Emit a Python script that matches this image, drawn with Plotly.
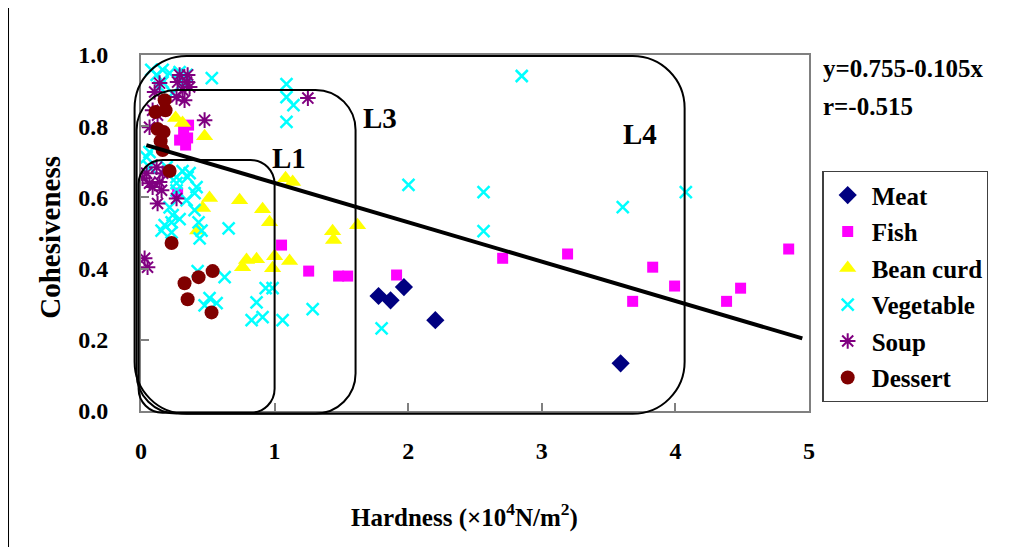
import plotly.graph_objects as go

# ---------------- data ----------------
meat_x = [1.778, 1.868, 1.968, 2.203, 3.590]
meat_y = [0.323, 0.311, 0.348, 0.255, 0.134]

fish_x = [0.274, 0.356, 0.319, 0.349, 0.289, 0.334, 1.052, 1.255, 1.479, 1.547, 1.913,
          2.707, 3.193, 3.680, 3.830, 3.994, 4.383, 4.488, 4.848]
fish_y = [0.612, 0.803, 0.786, 0.767, 0.761, 0.747, 0.466, 0.393, 0.379, 0.379, 0.382,
          0.429, 0.441, 0.308, 0.404, 0.351, 0.308, 0.345, 0.455]

bean_x = [0.476, 0.259, 0.311, 0.513, 0.461, 0.738, 0.910, 0.962, 0.424, 1.082, 1.135,
          1.434, 1.441, 1.621, 0.790, 0.865, 0.760, 1.000, 1.112, 0.985]
bean_y = [0.772, 0.823, 0.809, 0.598, 0.570, 0.592, 0.567, 0.530, 0.507, 0.654, 0.643,
          0.505, 0.480, 0.522, 0.424, 0.426, 0.404, 0.435, 0.421, 0.401]

veg_x = [0.117, 0.162, 0.214, 0.289, 0.341, 0.162, 0.311, 0.139, 0.237, 0.530, 1.089,
         1.089, 1.141, 1.089, 2.850, 2.002, 2.564, 2.564, 3.606, 4.078, 1.801, 0.626,
         0.656, 0.865, 0.828, 0.910, 0.933, 0.985, 1.060, 1.285, 0.424, 0.513, 0.566,
         0.476, 0.311, 0.349, 0.266, 0.401, 0.341, 0.237, 0.177, 0.229, 0.289, 0.401,
         0.431, 0.453, 0.154, 0.229, 0.439, 0.042, 0.064, 0.192, 0.364, 0.416, 0.266,
         0.214, 0.266, 0.064, 0.077]
veg_y = [0.944, 0.958, 0.949, 0.952, 0.944, 0.924, 0.921, 0.910, 0.893, 0.935, 0.918,
         0.882, 0.859, 0.812, 0.941, 0.635, 0.615, 0.505, 0.573, 0.615, 0.232, 0.376,
         0.513, 0.305, 0.255, 0.264, 0.345, 0.345, 0.255, 0.286, 0.393, 0.317, 0.303,
         0.297, 0.674, 0.657, 0.640, 0.612, 0.592, 0.550, 0.522, 0.530, 0.539, 0.564,
         0.530, 0.507, 0.507, 0.502, 0.485, 0.713, 0.685, 0.685, 0.668, 0.629, 0.620,
         0.572, 0.657, 0.727, 0.958]

soup_x = [0.289, 0.349, 0.274, 0.341, 0.311, 0.364, 0.139, 0.102, 0.326, 0.266, 0.476,
          0.087, 0.124, 0.064, 0.042, 0.012, 0.117, 0.162, 0.139, 0.087, 0.064, 0.154,
          0.124, 0.266, 0.027, 0.049, 1.249]
soup_y = [0.944, 0.944, 0.924, 0.924, 0.902, 0.910, 0.921, 0.896, 0.873, 0.882, 0.817,
          0.845, 0.831, 0.797, 0.668, 0.654, 0.685, 0.668, 0.643, 0.629, 0.640, 0.620,
          0.583, 0.597, 0.429, 0.404, 0.879]

dessert_x = [0.177, 0.109, 0.184, 0.124, 0.169, 0.147, 0.162, 0.214, 0.229, 0.326, 0.431,
             0.536, 0.349, 0.528]
dessert_y = [0.873, 0.840, 0.845, 0.792, 0.784, 0.758, 0.733, 0.674, 0.472, 0.359, 0.376,
             0.393, 0.314, 0.277]

fit_x = [0.04, 4.95]
fit_y = [0.747, 0.204]

x_ticks = [0, 1, 2, 3, 4, 5]
y_ticks = [0.0, 0.2, 0.4, 0.6, 0.8, 1.0]

# ---------------- layout geometry ----------------
W, H = 1025, 547
OFF = 8  # page body margin: the figure is drawn 8px right/down of the window origin
# target plot area in window pixels: x 141.4..809.5, y 55..410.7
ML = 141.4 - OFF
MT = 55 - OFF
MR = W - (809.5 - OFF)
MB = H - (410.7 - OFF)
PW, PH = W - ML - MR, H - MT - MB
XMAX, YMAX = 5.0, 1.0
FONT = "Liberation Serif"


def px_x(px):
    return (px - OFF - ML) / PW


def px_y(py):
    return (H - MB - (py - OFF)) / PH


def rrect(x0, y0, x1, y1, r):
    # rounded rectangle in data units -> paper coords, r in pixels
    X0, X1 = x0 / XMAX, x1 / XMAX
    Y0, Y1 = y0 / YMAX, y1 / YMAX
    rx, ry = r / PW, r / PH
    k = 0.5523
    p = [f"M{X0 + rx},{Y1}", f"L{X1 - rx},{Y1}",
         f"C{X1 - rx + k * rx},{Y1} {X1},{Y1 - ry + k * ry} {X1},{Y1 - ry}",
         f"L{X1},{Y0 + ry}",
         f"C{X1},{Y0 + ry - k * ry} {X1 - rx + k * rx},{Y0} {X1 - rx},{Y0}",
         f"L{X0 + rx},{Y0}",
         f"C{X0 + rx - k * rx},{Y0} {X0},{Y0 + ry - k * ry} {X0},{Y0 + ry}",
         f"L{X0},{Y1 - ry}",
         f"C{X0},{Y1 - ry + k * ry} {X0 + rx - k * rx},{Y1} {X0 + rx},{Y1}", "Z"]
    return dict(type="path", xref="paper", yref="paper", path=" ".join(p),
                line=dict(color="black", width=2), fillcolor="rgba(0,0,0,0)", layer="above")


fig = go.Figure()


def add(name, xs, ys, marker):
    fig.add_trace(go.Scatter(x=xs, y=ys, mode="markers", name=name, marker=marker,
                             legendgroup=name))


add("Meat", meat_x, meat_y, dict(symbol="diamond", size=14, color="#000080", line=dict(width=0)))
add("Fish", fish_x, fish_y, dict(symbol="square", size=11, color="#FF00FF", line=dict(width=0)))
add("Bean curd", bean_x, bean_y, dict(symbol="triangle-up", size=15, color="#FFFF00", line=dict(width=0)))
add("Vegetable", veg_x, veg_y, dict(symbol="x-thin-open", size=12, color="#00FFFF",
                                     line=dict(color="#00FFFF", width=2.5)))
add("Soup", soup_x, soup_y, dict(symbol="asterisk-open", size=13, color="#800080",
                                 line=dict(color="#800080", width=2)))
add("Dessert", dessert_x, dessert_y, dict(symbol="circle", size=14, color="#800000", line=dict(width=0)))

fig.add_trace(go.Scatter(x=fit_x, y=fit_y, mode="lines", showlegend=False,
                         line=dict(color="black", width=4), hoverinfo="skip"))

axis_common = dict(showgrid=False, zeroline=False, showline=True, linecolor="#808080",
                   linewidth=2, mirror=True, ticks="inside", ticklen=8, tickcolor="#808080",
                   tickwidth=1.5)

fig.update_xaxes(range=[0, XMAX], tickvals=x_ticks, ticklabelstandoff=17,
                 tickfont=dict(family=FONT, size=24, color="black", weight="bold"),
                 **axis_common)
fig.update_yaxes(range=[0, YMAX], tickvals=y_ticks, tickformat=".1f", ticklabelstandoff=26,
                 tickfont=dict(family=FONT, size=24, color="black", weight="bold"),
                 **axis_common)

shapes = [
    rrect(-0.048, -0.008, 4.069, 0.997, 52),
    rrect(-0.033, -0.007, 1.606, 0.902, 40),
    rrect(-0.018, -0.005, 1.000, 0.705, 24),
    # chart-area frame edge visible at the left of the picture
    dict(type="line", xref="paper", yref="paper", x0=px_x(8.7), x1=px_x(8.7),
         y0=px_y(547), y1=px_y(8), line=dict(color="black", width=1.4), layer="below"),
]

tf = dict(family=FONT, color="black", weight="bold")
annotations = [
    dict(text="L1", x=px_x(289), y=px_y(158), font=dict(size=29, **tf)),
    dict(text="L3", x=px_x(380), y=px_y(118), font=dict(size=29, **tf)),
    dict(text="L4", x=px_x(640), y=px_y(134), font=dict(size=29, **tf)),
    dict(text="y=0.755-0.105x", x=px_x(822), y=px_y(68), xanchor="left", font=dict(size=25, **tf)),
    dict(text="r=-0.515", x=px_x(822), y=px_y(106), xanchor="left", font=dict(size=25, **tf)),
    dict(text="Cohesiveness", x=px_x(51), y=px_y(237), textangle=-90, font=dict(size=29, **tf)),
    dict(text="Hardness (×10<sup>4</sup>N/m<sup>2</sup>)", x=px_x(349), y=px_y(515),
         xanchor="left", font=dict(size=25, **tf)),
]
for a in annotations:
    a.update(xref="paper", yref="paper", showarrow=False)
    a.setdefault("xanchor", "center")
    a.setdefault("yanchor", "middle")

fig.update_layout(
    width=W, height=H, margin=dict(l=ML, r=MR, t=MT, b=MB),
    paper_bgcolor="white", plot_bgcolor="white",
    shapes=shapes, annotations=annotations,
    legend=dict(x=px_x(823), y=px_y(171), xanchor="left", yanchor="top",
                bordercolor="#404040", borderwidth=1.2, bgcolor="white",
                font=dict(family=FONT, size=25, color="black", weight="bold"),
                traceorder="grouped", tracegroupgap=1, itemwidth=38),
    showlegend=True,
)

fig.write_html("out.html")
